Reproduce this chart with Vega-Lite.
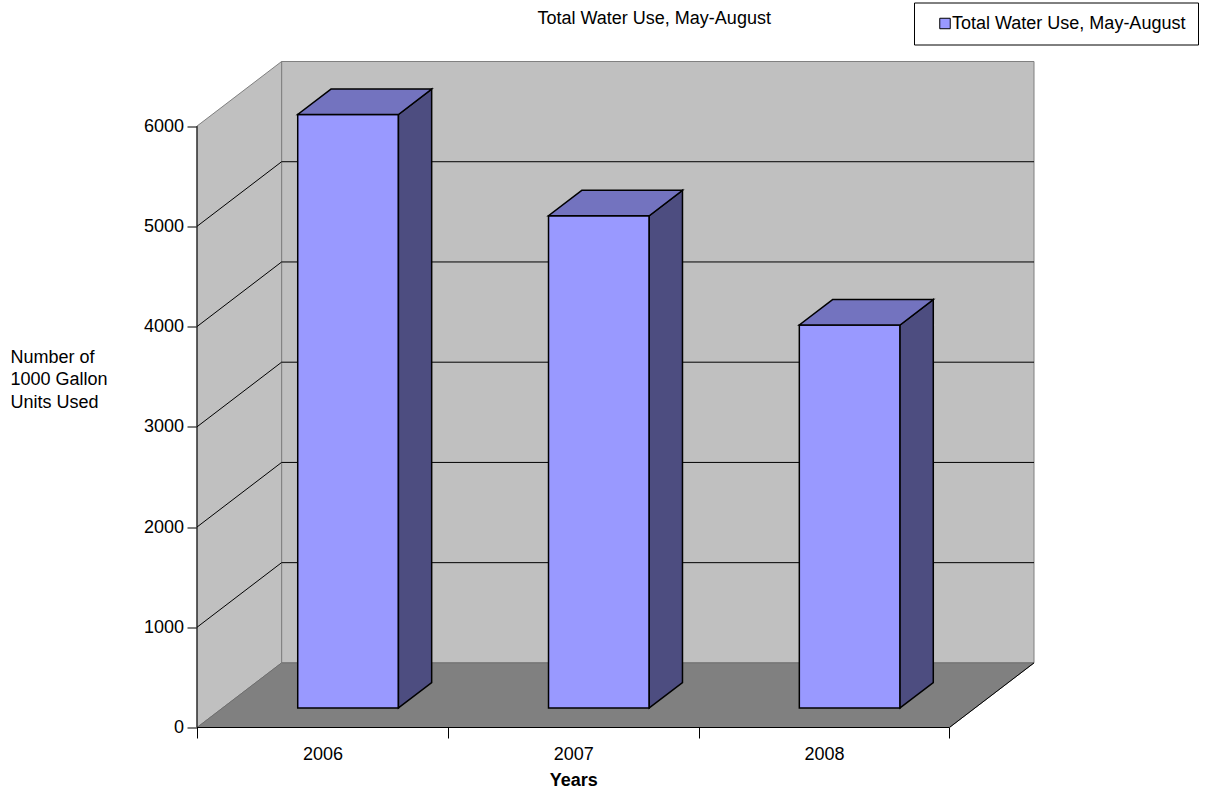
{
  "$schema": "https://vega.github.io/schema/vega-lite/v6.json",
  "width": 837,
  "height": 666,
  "autosize": {"type": "none"},
  "padding": {"left": 197, "top": 61.5, "right": 178, "bottom": 63.5},
  "background": "white",
  "config": {
    "view": {"stroke": null},
    "font": "Liberation Sans",
    "axis": {"labelColor": "black", "titleColor": "black"}
  },
  "title": {
    "text": "Total Water Use, May-August",
    "fontSize": 18,
    "fontWeight": "normal",
    "color": "black",
    "anchor": "middle",
    "frame": "group",
    "baseline": "alphabetic",
    "dx": 38.7,
    "offset": -39.5
  },
  "data": {
    "values": [
      {"year": 2006, "units": 5920},
      {"year": 2007, "units": 4910},
      {"year": 2008, "units": 3820}
    ]
  },
  "datasets": {
    "levels": [
      {"level": 1000},
      {"level": 2000},
      {"level": 3000},
      {"level": 4000},
      {"level": 5000}
    ]
  },
  "layer": [
    {
      "transform": [{"aggregate": [{"op": "count", "as": "n"}]}],
      "mark": {"type": "rect", "fill": "#c0c0c0", "stroke": "#808080", "strokeWidth": 1},
      "encoding": {
        "x": {"datum": 2005.8373, "type": "quantitative", "scale": {"domain": [2005.5, 2008.8373], "nice": false, "zero": false}},
        "x2": {"datum": 2008.8373},
        "y": {"datum": 644.5, "type": "quantitative", "scale": {"domain": [0, 6644.5], "nice": false, "zero": true}},
        "y2": {"datum": 6644.5}
      }
    },
    {
      "transform": [
        {"aggregate": [{"op": "count", "as": "n"}]},
        {"calculate": "0", "as": "front"},
        {"calculate": "1", "as": "back"},
        {"fold": ["front", "back"], "as": ["plane", "t"]},
        {"calculate": "2005.5 + datum.t * 0.3373", "as": "wx"},
        {"calculate": "datum.t * 644.5", "as": "wy"},
        {"calculate": "6000 + datum.t * 644.5", "as": "wy2"}
      ],
      "mark": {"type": "area", "orient": "vertical", "fill": "#c0c0c0", "stroke": "#808080", "strokeWidth": 1},
      "encoding": {
        "x": {"field": "wx", "type": "quantitative", "scale": {"domain": [2005.5, 2008.8373], "nice": false, "zero": false}},
        "y": {"field": "wy", "type": "quantitative", "scale": {"domain": [0, 6644.5], "nice": false}},
        "y2": {"field": "wy2"}
      }
    },
    {
      "transform": [
        {"aggregate": [{"op": "count", "as": "n"}]},
        {"calculate": "0", "as": "front"},
        {"calculate": "1", "as": "back"},
        {"fold": ["front", "back"], "as": ["plane", "t"]},
        {"calculate": "datum.t * 644.5", "as": "fy"},
        {"calculate": "2005.5 + datum.t * 0.3373", "as": "fx"},
        {"calculate": "2008.5 + datum.t * 0.3373", "as": "fx2"}
      ],
      "mark": {"type": "area", "orient": "horizontal", "fill": "#808080", "stroke": "#6e6e6e", "strokeWidth": 1},
      "encoding": {
        "y": {"field": "fy", "type": "quantitative", "scale": {"domain": [0, 6644.5], "nice": false}},
        "x": {"field": "fx", "type": "quantitative", "scale": {"domain": [2005.5, 2008.8373], "nice": false, "zero": false}},
        "x2": {"field": "fx2"}
      }
    },
    {
      "data": {"name": "levels"},
      "transform": [{"calculate": "datum.level + 644.5", "as": "backLevel"}],
      "mark": {"type": "rule", "color": "black", "strokeWidth": 1},
      "encoding": {
        "x": {"datum": 2005.8373, "type": "quantitative", "scale": {"domain": [2005.5, 2008.8373], "nice": false, "zero": false}},
        "x2": {"datum": 2008.8373},
        "y": {"field": "backLevel", "type": "quantitative", "scale": {"domain": [0, 6644.5], "nice": false}}
      }
    },
    {
      "data": {"name": "levels"},
      "transform": [{"calculate": "datum.level + 644.5", "as": "backLevel"}],
      "mark": {"type": "rule", "color": "black", "strokeWidth": 1},
      "encoding": {
        "x": {"datum": 2005.5, "type": "quantitative", "scale": {"domain": [2005.5, 2008.8373], "nice": false, "zero": false}},
        "x2": {"datum": 2005.8373},
        "y": {"field": "level", "type": "quantitative", "scale": {"domain": [0, 6644.5], "nice": false}},
        "y2": {"field": "backLevel"}
      }
    },
    {
      "transform": [{"aggregate": [{"op": "count", "as": "n"}]}],
      "mark": {"type": "rule", "color": "black", "strokeWidth": 1},
      "encoding": {
        "x": {"datum": 2005.5, "type": "quantitative", "scale": {"domain": [2005.5, 2008.8373], "nice": false, "zero": false}},
        "y": {"datum": 0, "type": "quantitative", "scale": {"domain": [0, 6644.5], "nice": false}},
        "y2": {"datum": 6000}
      }
    },
    {
      "transform": [{"aggregate": [{"op": "count", "as": "n"}]}],
      "mark": {"type": "rule", "color": "black", "strokeWidth": 1},
      "encoding": {
        "x": {"datum": 2005.5, "type": "quantitative", "scale": {"domain": [2005.5, 2008.8373], "nice": false, "zero": false}},
        "x2": {"datum": 2008.5},
        "y": {"datum": 0, "type": "quantitative", "scale": {"domain": [0, 6644.5], "nice": false}}
      }
    },
    {
      "transform": [{"aggregate": [{"op": "count", "as": "n"}]}],
      "mark": {"type": "rule", "color": "black", "strokeWidth": 1},
      "encoding": {
        "x": {"datum": 2008.5, "type": "quantitative", "scale": {"domain": [2005.5, 2008.8373], "nice": false, "zero": false}},
        "x2": {"datum": 2008.8373},
        "y": {"datum": 0, "type": "quantitative", "scale": {"domain": [0, 6644.5], "nice": false}},
        "y2": {"datum": 644.5}
      }
    },
    {
      "transform": [
        {"calculate": "datum.year - 0.0984", "as": "faceX"},
        {"calculate": "datum.year + 0.3032", "as": "faceX2"},
        {"calculate": "195.6", "as": "faceY"},
        {"calculate": "195.6 + datum.units", "as": "faceY2"}
      ],
      "mark": {"type": "rect", "stroke": "black", "strokeWidth": 1.5},
      "encoding": {
        "x": {
          "field": "faceX",
          "type": "quantitative",
          "scale": {"domain": [2005.5, 2008.8373], "nice": false, "zero": false},
          "axis": {
            "values": [2005.5, 2006, 2006.5, 2007, 2007.5, 2008, 2008.5],
            "labelExpr": "datum.value % 1 == 0 ? format(datum.value, 'd') : ''",
            "tickOpacity": {"condition": {"test": "datum.value % 1 != 0", "value": 1}, "value": 0},
            "tickSize": 10.5,
            "tickColor": "black",
            "tickWidth": 1,
            "domain": false,
            "grid": false,
            "labelFontSize": 18,
            "labelPadding": 7,
            "labelFlush": false,
            "labelOverlap": false,
            "title": "Years",
            "titleFontSize": 18,
            "titleFontWeight": "bold",
            "titleX": 376.2,
            "titleY": 57.5,
            "titleBaseline": "alphabetic",
            "titleAlign": "center"
          }
        },
        "x2": {"field": "faceX2"},
        "y": {
          "field": "faceY",
          "type": "quantitative",
          "scale": {"domain": [0, 6644.5], "nice": false},
          "axis": {
            "values": [0, 1000, 2000, 3000, 4000, 5000, 6000],
            "format": "d",
            "tickSize": 10,
            "tickColor": "black",
            "tickWidth": 1,
            "domain": false,
            "grid": false,
            "labelFontSize": 18,
            "labelPadding": 3.5,
            "title": ["Number of", "1000 Gallon", "Units Used"],
            "titleFontSize": 18,
            "titleFontWeight": "normal",
            "titleAngle": 0,
            "titleAlign": "left",
            "titleBaseline": "alphabetic",
            "titleLineHeight": 22.5,
            "titleX": -187,
            "titleY": 300.8
          }
        },
        "y2": {"field": "faceY2"},
        "color": {
          "datum": "Total Water Use, May-August",
          "type": "nominal",
          "scale": {"range": ["#9999ff"]},
          "legend": {
            "title": null,
            "orient": "none",
            "legendX": 717,
            "legendY": -59,
            "direction": "vertical",
            "strokeColor": "black",
            "fillColor": "white",
            "padding": 12,
            "symbolType": "square",
            "symbolSize": 110,
            "symbolStrokeColor": "black",
            "symbolStrokeWidth": 1,
            "symbolOffset": 10,
            "labelOffset": -2,
            "labelFontSize": 18,
            "labelColor": "black",
            "labelLimit": 0
          }
        }
      }
    },
    {
      "transform": [
        {"calculate": "0", "as": "near"},
        {"calculate": "1", "as": "far"},
        {"fold": ["near", "far"], "as": ["edge", "t"]},
        {"calculate": "datum.year + 0.3032 + datum.t * 0.1325", "as": "sideX"},
        {"calculate": "195.6 + datum.t * 253.3", "as": "sideY"},
        {"calculate": "195.6 + datum.t * 253.3 + datum.units", "as": "sideY2"}
      ],
      "mark": {"type": "area", "orient": "vertical", "fill": "#4d4d80", "stroke": "black", "strokeWidth": 1.5},
      "encoding": {
        "x": {"field": "sideX", "type": "quantitative", "scale": {"domain": [2005.5, 2008.8373], "nice": false, "zero": false}},
        "y": {"field": "sideY", "type": "quantitative", "scale": {"domain": [0, 6644.5], "nice": false}},
        "y2": {"field": "sideY2"},
        "detail": {"field": "year", "type": "nominal"}
      }
    },
    {
      "transform": [
        {"calculate": "0", "as": "near"},
        {"calculate": "1", "as": "far"},
        {"fold": ["near", "far"], "as": ["edge", "t"]},
        {"calculate": "195.6 + datum.units + datum.t * 253.3", "as": "topY"},
        {"calculate": "datum.year - 0.0984 + datum.t * 0.1325", "as": "topX"},
        {"calculate": "datum.year + 0.3032 + datum.t * 0.1325", "as": "topX2"}
      ],
      "mark": {"type": "area", "orient": "horizontal", "fill": "#7373bf", "stroke": "black", "strokeWidth": 1.5},
      "encoding": {
        "y": {"field": "topY", "type": "quantitative", "scale": {"domain": [0, 6644.5], "nice": false}},
        "x": {"field": "topX", "type": "quantitative", "scale": {"domain": [2005.5, 2008.8373], "nice": false, "zero": false}},
        "x2": {"field": "topX2"},
        "detail": {"field": "year", "type": "nominal"}
      }
    }
  ]
}
